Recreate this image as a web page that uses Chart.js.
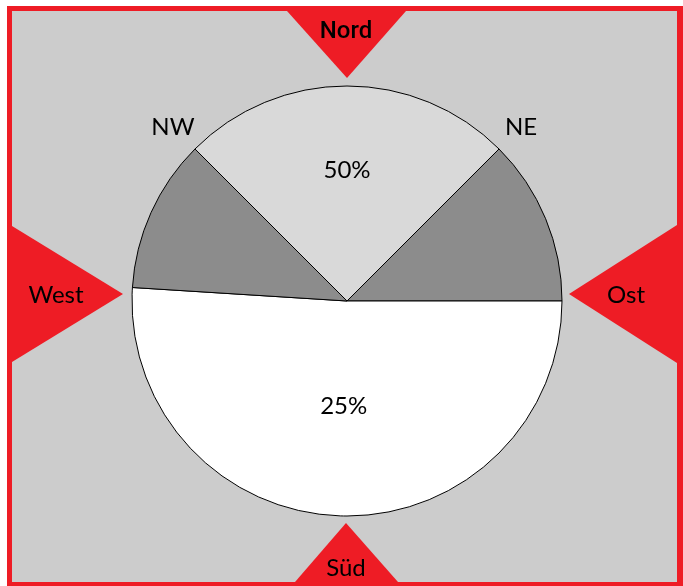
<!DOCTYPE html>
<html>
<head>
<meta charset="utf-8">
<title>Windrichtung</title>
<script src="https://cdn.jsdelivr.net/npm/chart.js"></script>
<style>
body{
    margin:0;
    background:white;
}
canvas{
    display:block;
}
</style>
</head>
<body>

<canvas id="chart" width="683" height="586"></canvas>

<script>

// sector shares of the circle, clockwise starting at the NW line
const sectors = ['N', 'NE-O', 'S', 'W-NW'];
const shares = [25, 12.5, 51, 11.5];
const sliceColors = ['#d9d9d9', '#8c8c8c', '#ffffff', '#8c8c8c'];

// text printed inside slices
const sliceTexts = ['50%', '', '25%', ''];

// labels on the rim lines
const rimLabels = ['NW', 'NE'];
const rimAngles = [-45, 45];

// compass tags on the frame
const compass = ['Nord', 'Ost', 'Süd', 'West'];

const RED = '#ee1c25';

// -------- frame, triangles and compass text --------
const framePlugin = {
    id: 'frame',
    beforeDraw(chart) {
        const ctx = chart.ctx;
        const W = chart.width, H = chart.height;
        ctx.save();
        ctx.fillStyle = 'white';
        ctx.fillRect(0, 0, W, H);
        ctx.fillStyle = RED;
        ctx.fillRect(7, 6, W - 7, H - 6);
        ctx.fillStyle = '#cccccc';
        ctx.fillRect(12, 11, 677 - 12, 582 - 11);

        ctx.fillStyle = RED;
        const tri = (pts) => {
            ctx.beginPath();
            ctx.moveTo(pts[0][0], pts[0][1]);
            ctx.lineTo(pts[1][0], pts[1][1]);
            ctx.lineTo(pts[2][0], pts[2][1]);
            ctx.closePath();
            ctx.fill();
        };
        tri([[287, 11], [406, 11], [347, 78]]);
        tri([[677, 225], [677, 363], [569, 294]]);
        tri([[295, 582], [398, 582], [346, 523]]);
        tri([[12, 226], [12, 362], [123, 294]]);

        ctx.fillStyle = 'black';
        ctx.textAlign = 'center';
        ctx.textBaseline = 'middle';
        ctx.font = "500 24px Roboto, 'DejaVu Sans Condensed', sans-serif";
        ctx.fillText(compass[0], 346, 32);
        ctx.font = "24px Lato, 'Open Sans', sans-serif";
        ctx.fillText(compass[1], 626, 295);
        ctx.fillText(compass[2], 346, 568);
        ctx.fillText(compass[3], 56, 295);
        ctx.restore();
    }
};

// -------- slice and rim labels --------
const labelPlugin = {
    id: 'labels',
    afterDatasetsDraw(chart) {
        const ctx = chart.ctx;
        const meta = chart.getDatasetMeta(0);
        const radii = [0.61, 0, 0.49, 0];
        ctx.save();
        ctx.fillStyle = 'black';
        ctx.textAlign = 'center';
        ctx.textBaseline = 'middle';
        ctx.font = "24px Lato, 'Open Sans', sans-serif";
        meta.data.forEach((arc, i) => {
            if (!sliceTexts[i]) return;
            const p = arc.getProps(['x', 'y', 'startAngle', 'endAngle', 'outerRadius'], true);
            const a = (p.startAngle + p.endAngle) / 2;
            const r = p.outerRadius * radii[i];
            ctx.fillText(sliceTexts[i], p.x + Math.cos(a) * r, p.y + Math.sin(a) * r);
        });
        const p0 = meta.data[0].getProps(['x', 'y', 'outerRadius'], true);
        rimLabels.forEach((t, i) => {
            const a = (rimAngles[i] - 90) * Math.PI / 180;
            const r = p0.outerRadius * 1.145;
            ctx.fillText(t, p0.x + Math.cos(a) * r, p0.y + Math.sin(a) * r);
        });
        ctx.restore();
    }
};

new Chart(document.getElementById('chart'), {
    type: 'pie',
    data: {
        labels: sectors,
        datasets: [{
            data: shares,
            backgroundColor: sliceColors,
            borderColor: 'black',
            borderWidth: 1,
            borderAlign: 'center'
        }]
    },
    options: {
        responsive: false,
        animation: false,
        devicePixelRatio: 1,
        rotation: -45,
        radius: 215,
        layout: {
            padding: { left: 132, right: 121, top: 86, bottom: 70 }
        },
        plugins: {
            legend: { display: false },
            tooltip: { enabled: false }
        }
    },
    plugins: [framePlugin, labelPlugin]
});

</script>

</body>
</html>
